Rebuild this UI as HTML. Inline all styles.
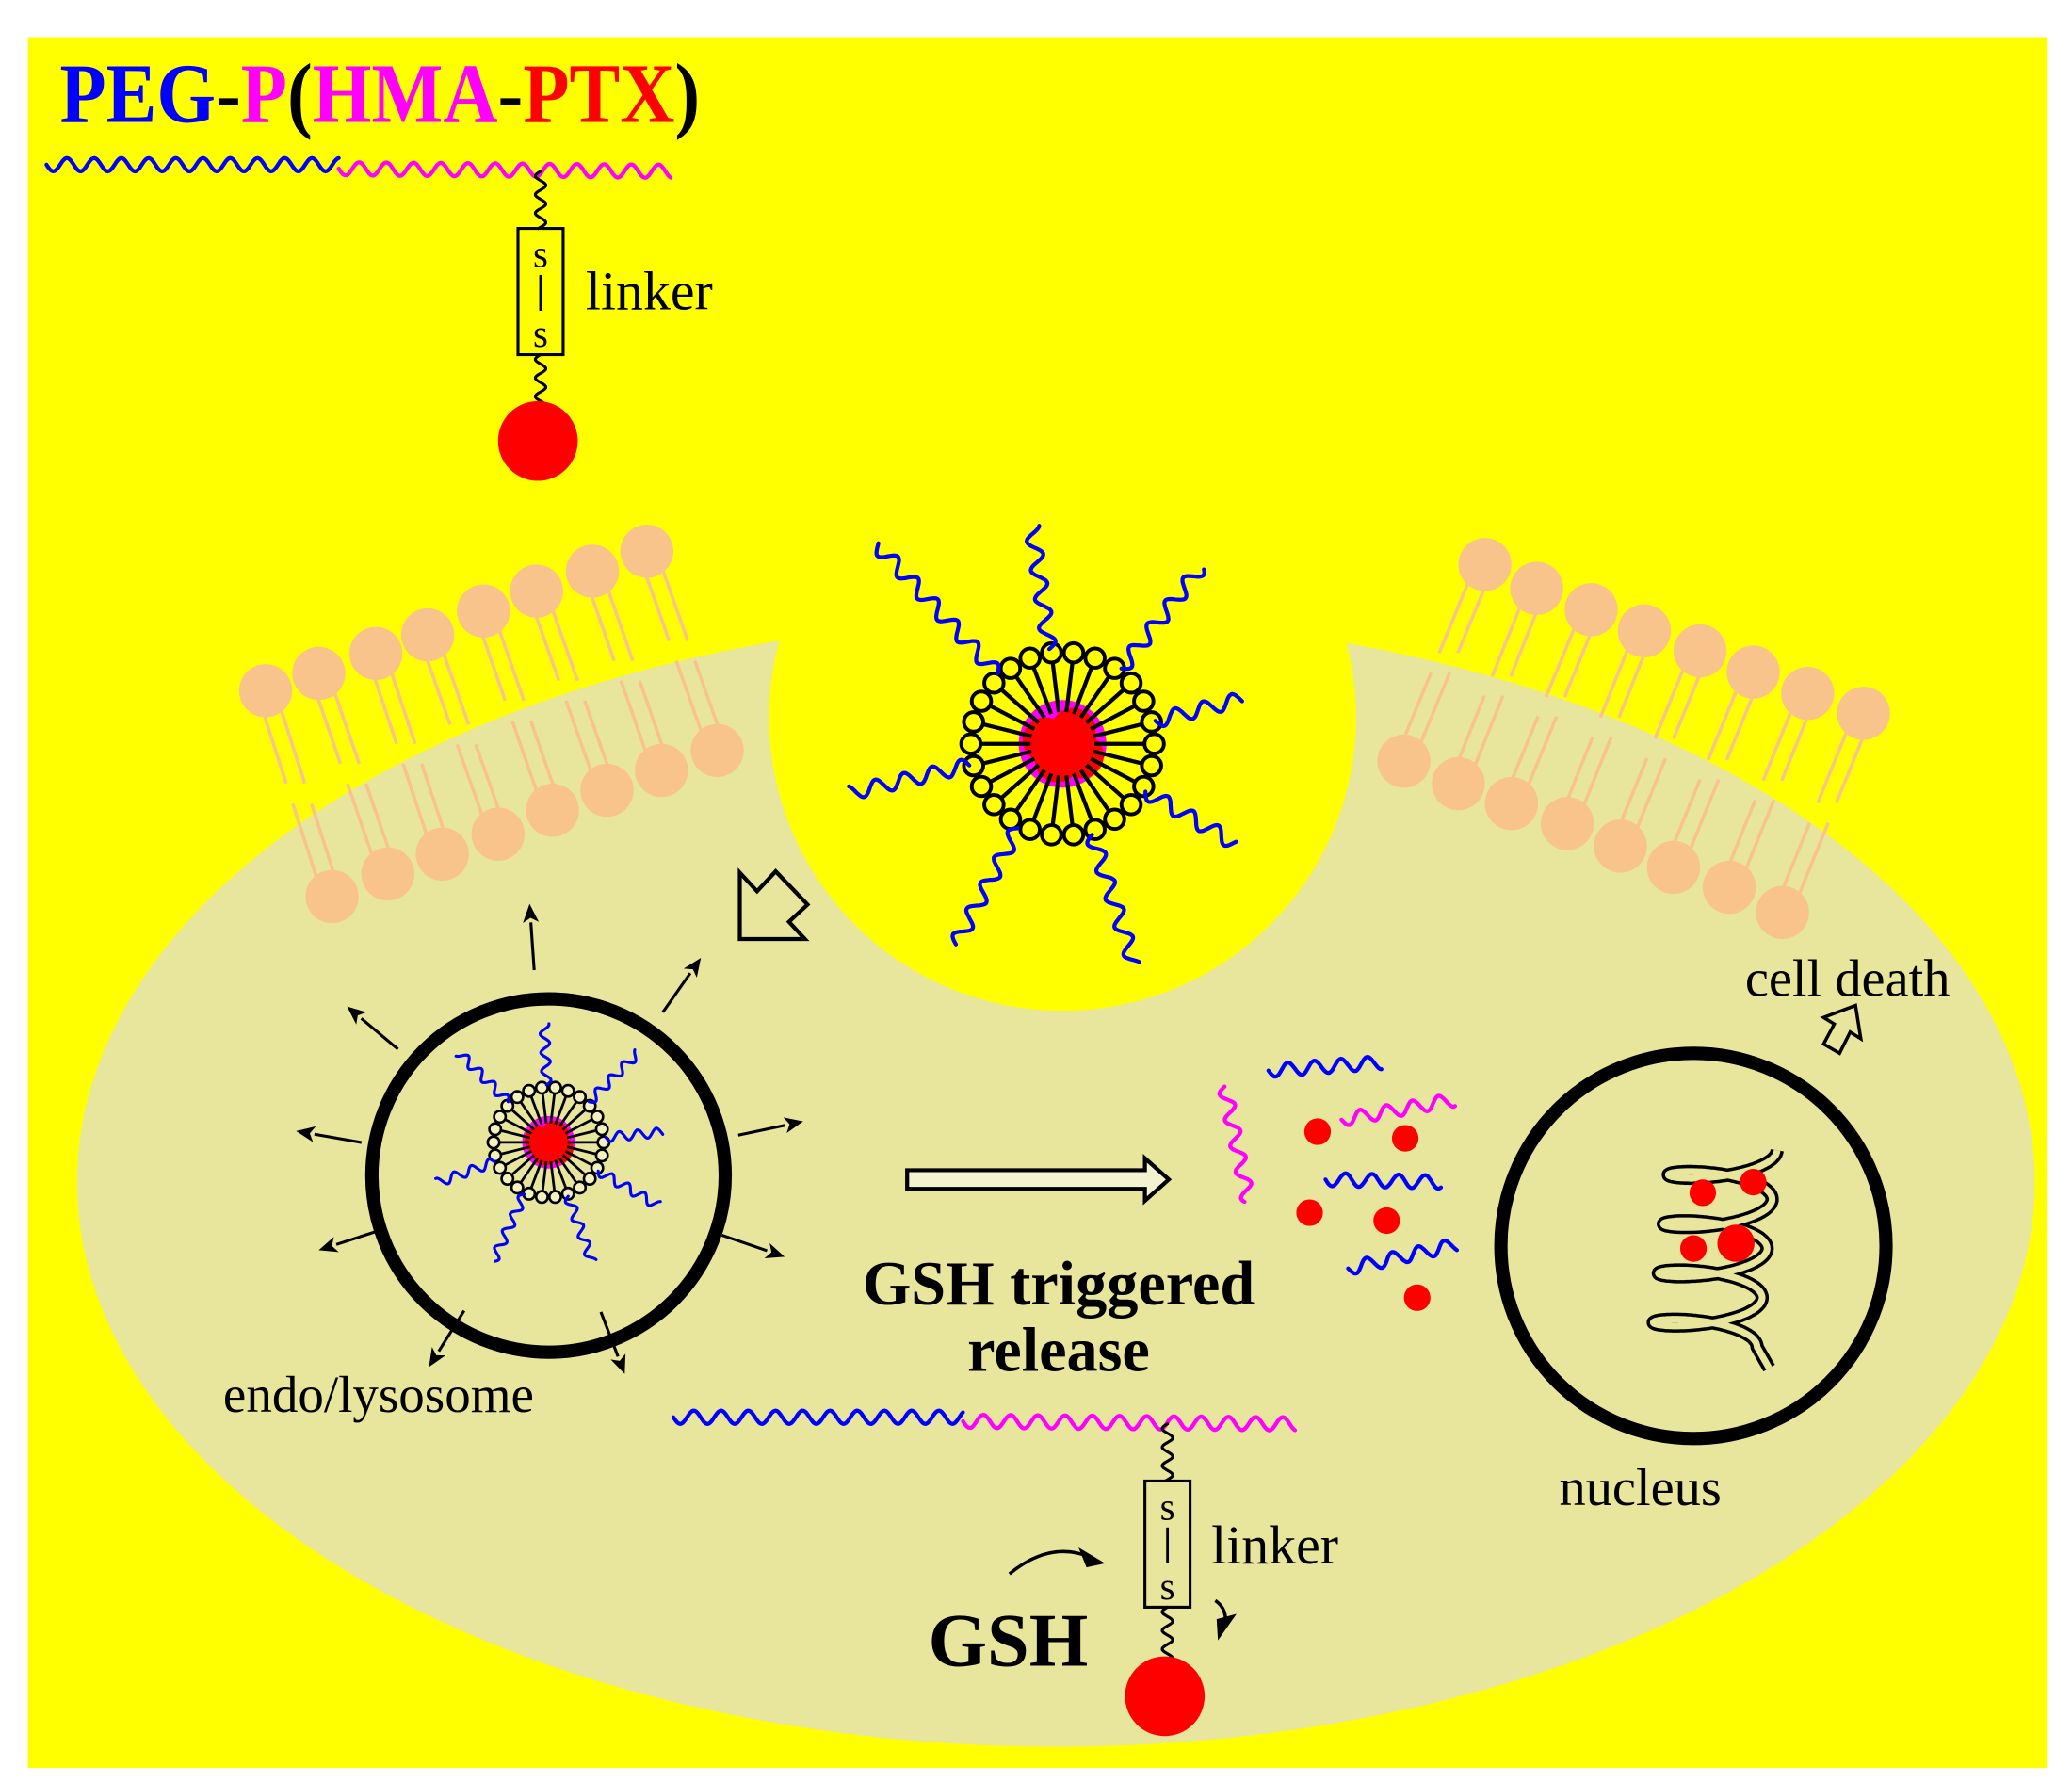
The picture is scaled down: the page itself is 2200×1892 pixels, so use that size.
<!DOCTYPE html>
<html><head><meta charset="utf-8">
<style>
html,body{margin:0;padding:0;background:#fff;}
svg{display:block;}
text{font-family:"Liberation Serif",serif;}
</style></head>
<body>
<svg id="s" xmlns="http://www.w3.org/2000/svg" width="2200" height="1892" viewBox="0 0 1560 1341.6">
<rect x="0" y="0" width="1560" height="1342" fill="#fff"/>
<rect x="21" y="28" width="1520" height="1303" fill="#ffff00"/>
<ellipse cx="795" cy="890" rx="737" ry="425" fill="#e8e59c"/>
<circle cx="800" cy="540" r="221" fill="#ffff00"/>
<g id="g"></g>
<text x="45" y="92" font-size="64" font-weight="bold" textLength="482" lengthAdjust="spacingAndGlyphs"><tspan fill="#0000ff">PEG</tspan><tspan fill="#000">-</tspan><tspan fill="#ff00ff">P</tspan><tspan fill="#000">(</tspan><tspan fill="#ff00ff">HMA</tspan><tspan fill="#000">-</tspan><tspan fill="#ff0000">PTX</tspan><tspan fill="#000">)</tspan></text>
<text x="441" y="233" font-size="41">linker</text>
<text x="912" y="1177" font-size="41">linker</text>
<text x="797" y="982" font-size="47" font-weight="bold" text-anchor="middle">GSH triggered</text>
<text x="797" y="1032" font-size="47" font-weight="bold" text-anchor="middle">release</text>
<text x="285" y="1063" font-size="39" text-anchor="middle">endo/lysosome</text>
<text x="1235" y="1133" font-size="40" text-anchor="middle">nucleus</text>
<text x="1391" y="750" font-size="40" text-anchor="middle">cell death</text>
<text x="759" y="1254" font-size="57" font-weight="bold" text-anchor="middle">GSH</text>
</svg>
<script>
var NS="http://www.w3.org/2000/svg",G=document.getElementById("g");
function el(t,a,p){var e=document.createElementNS(NS,t);for(var k in a)e.setAttribute(k,a[k]);(p||G).appendChild(e);return e;}
function wave(x1,y1,x2,y2,amp,per,col,w){var dx=x2-x1,dy=y2-y1,L=Math.hypot(dx,dy),ux=dx/L,uy=dy/L,px=-uy,py=ux,pts=[];
for(var s=0;s<=L;s+=1){var o=amp*Math.sin(2*Math.PI*s/per);pts.push((x1+ux*s+px*o).toFixed(1)+","+(y1+uy*s+py*o).toFixed(1));}
el("polyline",{points:pts.join(" "),fill:"none",stroke:col,"stroke-width":w,"stroke-linecap":"round"});}
var C="#f9c38c";
function lipids(top,bot){for(var i=0;i<top.length;i++){var a=top[i],b=bot[i];var dx=b[0]-a[0],dy=b[1]-a[1];
for(var j=-1;j<=1;j+=2){var ox=j*7;el("line",{x1:a[0]+ox,y1:a[1],x2:a[0]+ox+dx*0.45,y2:a[1]+dy*0.45,stroke:C,"stroke-width":2.5});
el("line",{x1:b[0]+ox,y1:b[1],x2:b[0]+ox-dx*0.45,y2:b[1]-dy*0.45,stroke:C,"stroke-width":2.5});}}
top.concat(bot).forEach(function(p){el("circle",{cx:p[0],cy:p[1],r:20,fill:C});});}
lipids([[200,520],[240,507],[283,492],[322,478],[364,460],[404,445],[446,430],[487,415]],
[[250,675],[292,658],[333,643],[375,628],[416,610],[457,595],[498,580],[540,565]]);
lipids([[1118,425],[1157,443],[1198,459],[1238,475],[1280,490],[1320,506],[1361,522],[1403,537]],
[[1057,573],[1098,590],[1138,605],[1180,620],[1220,637],[1260,653],[1302,668],[1342,687]]);
function micelle(cx,cy,s,n,angs,lens,sw,hf){
 el("circle",{cx:cx,cy:cy,r:33*s,fill:"#ff00ff"});
 [[-13,-3],[8,-10],[-4,12],[14,9]].forEach(function(o){el("circle",{cx:cx+o[0]*s,cy:cy+o[1]*s,r:17*s,fill:"#ff0000"});});
 for(var i=0;i<n;i++){var a=2*Math.PI*i/n;var c=Math.cos(a),d=Math.sin(a);
  el("line",{x1:cx+c*24*s,y1:cy+d*24*s,x2:cx+c*62*s,y2:cy+d*62*s,stroke:"#000","stroke-width":2.6*s+0.4});}
 for(var i=0;i<n;i++){var a=2*Math.PI*i/n;
  el("circle",{cx:cx+Math.cos(a)*69*s,cy:cy+Math.sin(a)*69*s,r:7.3*s,fill:hf,stroke:"#000","stroke-width":2.4*s+0.4});}
 for(var i=0;i<angs.length;i++){var a=angs[i]*Math.PI/180;var r0=72*s,r1=lens[i]*s;
  wave(cx+Math.cos(a)*r0,cy+Math.sin(a)*r0,cx+Math.cos(a)*r1,cy+Math.sin(a)*r1,5*s+0.5,20*s+2,"#0000ff",sw);}
}
micelle(800,560,1,26,[-98,-133,-52,-14,167,30,72,118],[165,205,170,140,165,150,175,172],3,"#ffff00");
el("circle",{cx:413,cy:885,r:133,fill:"none",stroke:"#000","stroke-width":10});
micelle(413,860,0.6,26,[-92,-135,-45,-5,160,30,70,115],[150,160,160,145,150,160,160,165],2.2,"#f4f0c0");
function arrow(x1,y1,x2,y2,hl,hw,w){var dx=x2-x1,dy=y2-y1,L=Math.hypot(dx,dy),ux=dx/L,uy=dy/L;
 var bx=x2-ux*hl,by=y2-uy*hl;el("line",{x1:x1,y1:y1,x2:bx,y2:by,stroke:"#000","stroke-width":w});
 el("polygon",{points:x2+","+y2+" "+(bx-uy*hw)+","+(by+ux*hw)+" "+(bx+ux*hl*0.25)+","+(by+uy*hl*0.25)+" "+(bx+uy*hw)+","+(by-ux*hw),fill:"#000"});}
[[-94,205],[-55,200],[-12,196],[19,188],[69,160],[122,170],[162,182],[190,193],[220,198]].forEach(function(q){var a=q[0]*Math.PI/180;
 arrow(413+Math.cos(a)*(q[1]-50),885+Math.sin(a)*(q[1]-50),413+Math.cos(a)*q[1],885+Math.sin(a)*q[1],14,6,2.2);});
el("polygon",{points:"683,881 862,881 862,872 880,888 862,904 862,895 683,895",fill:"#fff8",stroke:"#000","stroke-width":3});
el("polygon",{points:"557,657 570,671 584,656 608,681 594,694 606,707 557,707",fill:"none",stroke:"#000","stroke-width":3});
el("polygon",{points:"1397,757 1401,782 1393,777 1385,793 1373,786 1381,771 1373,766",fill:"none",stroke:"#000","stroke-width":2.5});
wave(922,818,940,905,5,20,"#ff00ff",3);
wave(955,806,1040,800,5,20,"#0000ff",3);
wave(1010,843,1095,828,5,20,"#ff00ff",3);
wave(998,888,1085,890,5,20,"#0000ff",3);
wave(1015,955,1097,937,5,20,"#0000ff",3);
[[992,852,10],[1058,857,10],[986,913,10],[1044,919,10],[1067,977,10]].forEach(function(p){el("circle",{cx:p[0],cy:p[1],r:p[2],fill:"#ff0000"});});
el("circle",{cx:1275,cy:938,r:145,fill:"none",stroke:"#000","stroke-width":10});
var hp=["1338,866"];for(var t=0;t<=4*2*Math.PI;t+=0.04){var x=1298+40*Math.cos(t)-t*0.6,y=866+t*5.9+10*Math.sin(t);hp.push(x.toFixed(1)+","+y.toFixed(1));}
hp.push("1332,1030");
el("polyline",{points:hp.join(" "),fill:"none",stroke:"#000","stroke-width":10,"stroke-linejoin":"round"});
el("polyline",{points:hp.join(" "),fill:"none",stroke:"#e8e59c","stroke-width":5,"stroke-linejoin":"round"});
[[1282,898,10],[1320,890,10],[1275,940,10],[1307,936,14]].forEach(function(p){el("circle",{cx:p[0],cy:p[1],r:p[2],fill:"#ff0000"});});
function polymer(x0,xm,x1,y,lx,boxT,boxB,ballY){
 wave(x0,y,xm,y,5,20.5,"#0000ff",3);wave(xm,y+3,x1,y+5,5,20.5,"#ff00ff",3);
 wave(lx,y+5,lx,boxT,4,14,"#000",2.2);
 el("rect",{x:lx-17,y:boxT,width:34,height:boxB-boxT,fill:"none",stroke:"#000","stroke-width":2.2});
 el("text",{x:lx,y:boxT+29,"font-size":29,"text-anchor":"middle"}).textContent="s";
 el("line",{x1:lx,y1:boxT+35,x2:lx,y2:boxB-33,stroke:"#000","stroke-width":2});
 el("text",{x:lx,y:boxB-6,"font-size":29,"text-anchor":"middle"}).textContent="s";
 wave(lx,boxB,lx,ballY-28,4,14,"#000",2.2);
 el("circle",{cx:lx-2,cy:ballY,r:30,fill:"#ff0000"});}
polymer(35,255,505,124,407,172,267,332);
polymer(507,725,975,1067,879,1115,1210,1277);
el("path",{d:"M760,1185 Q790,1160 820,1172",fill:"none",stroke:"#000","stroke-width":2.5});
el("polygon",{points:"832,1177 812,1165 818,1180",fill:"#000"});
el("path",{d:"M915,1205 Q925,1212 922,1225",fill:"none",stroke:"#000","stroke-width":2.5});
el("polygon",{points:"917,1235 931,1215 916,1219",fill:"#000"});
</script>
</body></html>
